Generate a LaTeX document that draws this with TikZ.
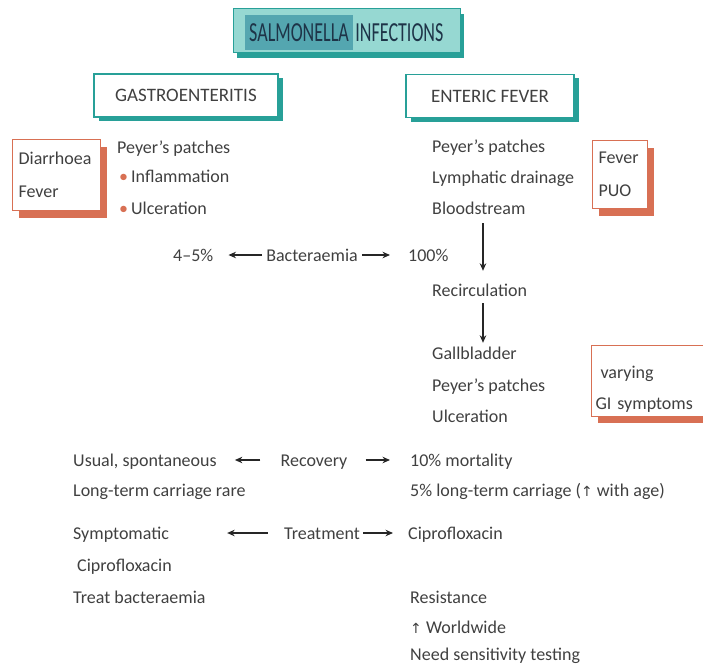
\documentclass[tikz,border=0pt]{standalone}
\usepackage{fontspec}
\setmainfont{Carlito}
\newfontfamily\arrowfont{DejaVu Sans}
\usetikzlibrary{arrows.meta,shadows}
\definecolor{tealline}{RGB}{40,160,152}
\definecolor{tealfill}{RGB}{150,216,210}
\definecolor{tealdark}{RGB}{84,166,176}
\definecolor{orangeline}{RGB}{216,112,84}
\definecolor{txtgrey}{RGB}{64,64,64}
\newcommand{\tfont}{\fontsize{18}{21}\selectfont}
\newcommand{\uarr}{{\arrowfont\fontsize{14}{14}\selectfont ↑}}
\newcommand{\bul}{\textcolor{orangeline}{\textbullet}\hspace{3pt}}

\begin{document}
\begin{tikzpicture}[x=1pt,y=-1pt,
	txt/.style={anchor=base west, inner sep=0pt, text=txtgrey, font=\tfont, text height=15pt, text depth=3pt},
	mid/.style={txt, anchor=base},
	arr/.style={-{Stealth[length=7.5pt,width=6.5pt]}, line width=1.4pt, draw=black!85},
	hdbox/.style={draw=tealline, line width=1.2pt, fill=white, minimum width=#1, minimum height=43pt,
		text=txtgrey, font=\fontsize{19}{21}\selectfont, drop shadow={shadow xshift=5pt, shadow yshift=-4pt, fill=tealline, opacity=1}},
	notebox/.style={draw=orangeline, line width=1.2pt, fill=white, anchor=north west, align=left,
		text width=#1, inner xsep=6pt, text=txtgrey, font=\fontsize{18}{33}\selectfont,
		drop shadow={shadow xshift=6pt, shadow yshift=-7pt, fill=orangeline, opacity=1}}]
			%%%%% START %%%%%
			
			\useasboundingbox (0,0) rectangle (703,666);
			\clip (0,0) rectangle (703,666);
			
			% title
			\node[draw=tealline, line width=1pt, fill=tealfill, minimum width=227pt, minimum height=44pt,
				drop shadow={shadow xshift=4pt, shadow yshift=-5pt, fill=tealline, opacity=1}] (title) at (346.5,31) {};
			\node[fill=tealdark, inner sep=0pt, minimum width=108pt, minimum height=35pt, text={rgb,255:red,30;green,52;blue,72},
				font=\fontsize{19}{20}\selectfont] (salm) at (299,32.5) {\scalebox{0.95}[1.45]{SALMONELLA}};
			\node[anchor=west, inner sep=0pt, text={rgb,255:red,30;green,52;blue,72},
				font=\fontsize{19}{20}\selectfont] (infect) at ([xshift=2pt]salm.east) {\scalebox{0.95}[1.45]{INFECTIONS}};
			
			% headings
			\node[hdbox=184pt] (gastro) at (186,95.5) {GASTROENTERITIS};
			\node[hdbox=168pt] (enteric) at (490,96) {ENTERIC FEVER};
			
			% side boxes
			\node[notebox=76pt, minimum height=71pt] (diarr) at (12,139) {Diarrhoea\\Fever};
			\node[notebox=43pt, minimum height=68pt] (fever) at (592,140) {Fever\\PUO};
			\node[notebox=108pt, minimum height=70pt, inner xsep=4pt, font=\fontsize{18}{31}\selectfont] (gisym) at (591,345)
				{\rule{0pt}{30pt}\hspace*{5pt}varying\\GI symptoms};
			
			% gastroenteritis column
			\node[txt] (gpeyer) at (117,153) {Peyer's patches};
			\node[txt] (ginfl) at (119,182) {\bul Inflammation};
			\node[txt] (gulc) at (119,214) {\bul Ulceration};
			
			% enteric fever column
			\node[txt] (epeyer) at (432,152) {Peyer's patches};
			\node[txt] (lymph) at (432,183) {Lymphatic drainage};
			\node[txt] (blood) at (432,214) {Bloodstream};
			\node[txt] (recirc) at (432,296) {Recirculation};
			\node[txt] (gall) at (432,359) {Gallbladder};
			\node[txt] (epeyer2) at (432,391) {Peyer's patches};
			\node[txt] (eulc) at (432,422) {Ulceration};
			
			\coordinate (vline) at (483,0);
			\draw[arr, shorten <=6pt, shorten >=10pt] (blood.south -| vline) -- (recirc.north -| vline);
			\draw[arr, shorten <=4pt, shorten >=1pt] (recirc.south -| vline) -- (gall.north -| vline);
			
			% bacteraemia
			\node[txt] (pctl) at (173,261) {4--5\%};
			\node[mid] (bact) at (312,261) {Bacteraemia};
			\node[txt] (pctr) at (408,261) {100\%};
			\draw[arr] ([xshift=-4pt]bact.west) -- ([xshift=15pt]pctl.east);
			\draw[arr] ([xshift=4pt]bact.east) -- ([xshift=-18pt]pctr.west);
			
			% recovery
			\node[txt] (usual) at (73,466) {Usual, spontaneous};
			\node[txt] (rare) at (73,496) {Long-term carriage rare};
			\node[mid] (recov) at (314,466) {Recovery};
			\node[txt] (mort) at (410,466) {10\% mortality};
			\node[txt] (carr) at (410,496) {5\% long-term carriage (\uarr\ with age)};
			\draw[arr] ([xshift=-20pt]recov.west) -- ([xshift=18pt]usual.east);
			\draw[arr] ([xshift=18pt]recov.east) -- ([xshift=-20pt]mort.west);
			
			% treatment
			\node[txt] (sympt) at (73,539) {Symptomatic};
			\node[txt] (ciprol) at (77,571) {Ciprofloxacin};
			\node[txt] (treatb) at (73,603) {Treat bacteraemia};
			\node[mid] (treat) at (322,539) {Treatment};
			\node[txt] (cipror) at (408,539) {Ciprofloxacin};
			\node[txt] (resist) at (410,603) {Resistance};
			\node[txt] (world) at (410,633) {\uarr\ Worldwide};
			\node[txt] (sens) at (410,660) {Need sensitivity testing};
			\draw[arr] ([xshift=-16pt]treat.west) -- ([xshift=58pt]sympt.east);
			\draw[arr] ([xshift=3pt]treat.east) -- ([xshift=-15pt]cipror.west);
			
			%%%%% END %%%%%
		\end{tikzpicture}
\end{document}
